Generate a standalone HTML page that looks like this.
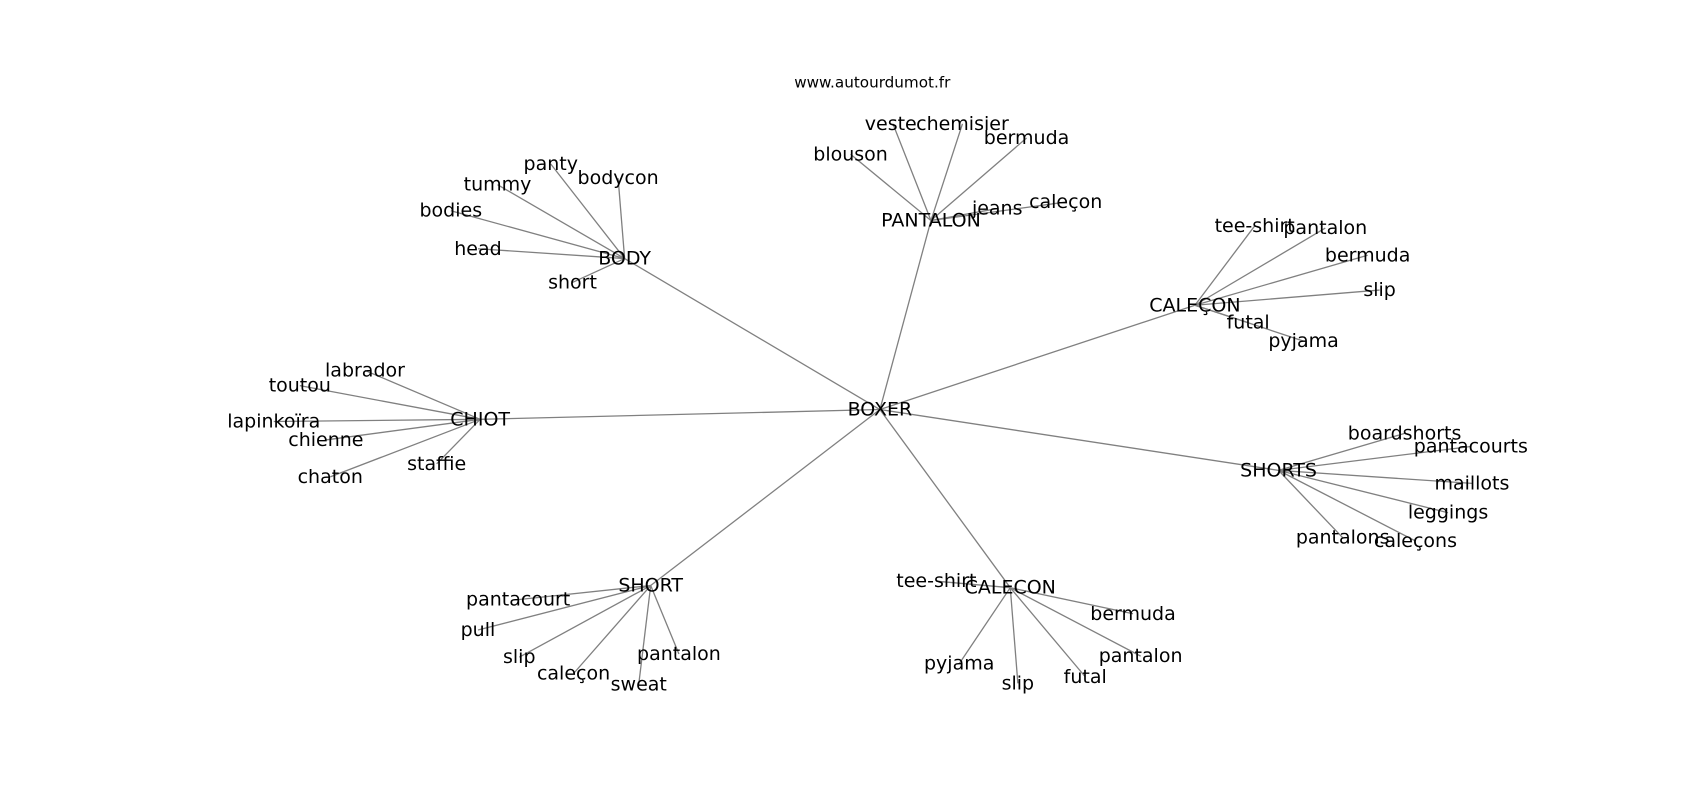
<!DOCTYPE html>
<html><head><meta charset="utf-8"><style>body{margin:0;background:#fff}</style></head><body>
<svg width="1700" height="800" xmlns="http://www.w3.org/2000/svg" font-family="DejaVu Sans, Liberation Sans, sans-serif">
<rect width="1700" height="800" fill="#fff"/>
<g transform="scale(1.0863)">
<g stroke="#808080" stroke-width="1.2" fill="none">
<line x1="810" y1="377" x2="575" y2="238"/><line x1="810" y1="377" x2="857" y2="203"/>
<line x1="810" y1="377" x2="1100" y2="281"/><line x1="810" y1="377" x2="1177" y2="433"/>
<line x1="810" y1="377" x2="930" y2="541"/><line x1="810" y1="377" x2="599" y2="539"/>
<line x1="810" y1="377" x2="442" y2="386"/>
<line x1="575" y1="238" x2="507" y2="151"/><line x1="575" y1="238" x2="569" y2="164"/><line x1="575" y1="238" x2="458" y2="170"/><line x1="575" y1="238" x2="415" y2="194"/><line x1="575" y1="238" x2="440" y2="229"/><line x1="575" y1="238" x2="527" y2="260"/>
<line x1="857" y1="203" x2="783" y2="142"/><line x1="857" y1="203" x2="822" y2="114"/><line x1="857" y1="203" x2="886" y2="114"/><line x1="857" y1="203" x2="945" y2="127"/><line x1="857" y1="203" x2="918" y2="192"/><line x1="857" y1="203" x2="981" y2="186"/>
<line x1="1100" y1="281" x2="1155" y2="208"/><line x1="1100" y1="281" x2="1220" y2="210"/><line x1="1100" y1="281" x2="1259" y2="235"/><line x1="1100" y1="281" x2="1270" y2="267"/><line x1="1100" y1="281" x2="1149" y2="297"/><line x1="1100" y1="281" x2="1200" y2="314"/>
<line x1="1177" y1="433" x2="1293" y2="399"/><line x1="1177" y1="433" x2="1354" y2="411"/><line x1="1177" y1="433" x2="1355" y2="445"/><line x1="1177" y1="433" x2="1333" y2="472"/><line x1="1177" y1="433" x2="1236" y2="495"/><line x1="1177" y1="433" x2="1303" y2="498"/>
<line x1="930" y1="541" x2="862" y2="535"/><line x1="930" y1="541" x2="1043" y2="565"/><line x1="930" y1="541" x2="1050" y2="604"/><line x1="930" y1="541" x2="999" y2="623"/><line x1="930" y1="541" x2="937" y2="629"/><line x1="930" y1="541" x2="883" y2="611"/>
<line x1="599" y1="539" x2="477" y2="552"/><line x1="599" y1="539" x2="440" y2="580"/><line x1="599" y1="539" x2="478" y2="605"/><line x1="599" y1="539" x2="528" y2="620"/><line x1="599" y1="539" x2="588" y2="630"/><line x1="599" y1="539" x2="625" y2="602"/>
<line x1="442" y1="386" x2="336" y2="341"/><line x1="442" y1="386" x2="276" y2="355"/><line x1="442" y1="386" x2="252" y2="388"/><line x1="442" y1="386" x2="300" y2="405"/><line x1="442" y1="386" x2="304" y2="439"/><line x1="442" y1="386" x2="402" y2="427"/>
</g>
<text x="803" y="76" font-size="14" text-anchor="middle" dominant-baseline="central">www.autourdumot.fr</text>
<g font-size="17.5" text-anchor="middle" dominant-baseline="central" fill="#000">
<text x="810" y="377">BOXER</text>
<text x="575" y="238">BODY</text><text x="507" y="151">panty</text><text x="569" y="164">bodycon</text><text x="458" y="170">tummy</text><text x="415" y="194">bodies</text><text x="440" y="229">head</text><text x="527" y="260">short</text>
<text x="857" y="203">PANTALON</text><text x="783" y="142">blouson</text><text x="820" y="114">veste</text><text x="886" y="114">chemisier</text><text x="945" y="127">bermuda</text><text x="918" y="192">jeans</text><text x="981" y="186">caleçon</text>
<text x="1100" y="281">CALEÇON</text><text x="1155" y="208">tee-shirt</text><text x="1220" y="210">pantalon</text><text x="1259" y="235">bermuda</text><text x="1270" y="267">slip</text><text x="1149" y="297">futal</text><text x="1200" y="314">pyjama</text>
<text x="1177" y="433">SHORTS</text><text x="1293" y="399">boardshorts</text><text x="1354" y="411">pantacourts</text><text x="1355" y="445">maillots</text><text x="1333" y="472">leggings</text><text x="1236" y="495">pantalons</text><text x="1303" y="498">caleçons</text>
<text x="930" y="541">CALECON</text><text x="862" y="535">tee-shirt</text><text x="1043" y="565">bermuda</text><text x="1050" y="604">pantalon</text><text x="999" y="623">futal</text><text x="937" y="629">slip</text><text x="883" y="611">pyjama</text>
<text x="599" y="539">SHORT</text><text x="477" y="552">pantacourt</text><text x="440" y="580">pull</text><text x="478" y="605">slip</text><text x="528" y="620">caleçon</text><text x="588" y="630">sweat</text><text x="625" y="602">pantalon</text>
<text x="442" y="386">CHIOT</text><text x="336" y="341">labrador</text><text x="276" y="355">toutou</text><text x="252" y="388">lapinkoïra</text><text x="300" y="405">chienne</text><text x="304" y="439">chaton</text><text x="402" y="427">staffie</text>
</g>
</g>
</svg>
</body></html>
